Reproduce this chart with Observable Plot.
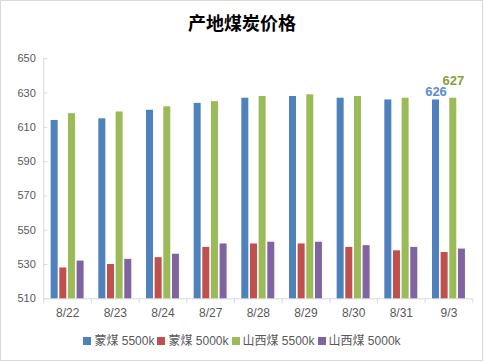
<!DOCTYPE html>
<html>
<head>
<meta charset="utf-8">
<script src="https://cdn.jsdelivr.net/npm/d3@7"></script>
<script src="https://cdn.jsdelivr.net/npm/@observablehq/plot@0.6"></script>
<style>
  html, body { margin: 0; padding: 0; background: #fff; }
  body { width: 484px; height: 362px; position: relative; overflow: hidden;
         font-family: "Liberation Sans", "Noto Sans CJK SC", sans-serif; }
  #border { position: absolute; left: 0; top: 0; width: 483px; height: 361px;
            box-sizing: border-box; border: 1px solid #d9d9d9; }
  #title { position: absolute; left: 0; top: 9px; width: 484px; text-align: center;
           font-family: "Noto Sans CJK SC", sans-serif; font-weight: bold; font-size: 18px;
           line-height: 26px; color: #000; }
  #chart { position: absolute; left: 0; top: 45px; }
  #legend { position: absolute; left: 0; top: 333px; width: 484px; display: flex;
            justify-content: center; gap: 3px; font-size: 12px; color: #595959; line-height: 16px; }
  #legend .item { display: flex; align-items: center; gap: 3px; }
  #legend .sw { width: 8px; height: 8px; display: inline-block; }
</style>
</head>
<body>
<div id="border"></div>
<div id="title">产地煤炭价格</div>
<div id="chart"></div>
<div id="legend"></div>
<script>
const dates = ["8/22", "8/23", "8/24", "8/27", "8/28", "8/29", "8/30", "8/31", "9/3"];
const seriesNames = ["蒙煤 5500k", "蒙煤 5000k", "山西煤 5500k", "山西煤 5000k"];
const mengmei5500 = [614, 615, 620, 624, 627, 628, 627, 626, 626];
const mengmei5000 = [528, 530, 534, 540, 542, 542, 540, 538, 537];
const shanxi5500 = [618, 619, 622, 625, 628, 629, 628, 627, 627];
const shanxi5000 = [532, 533, 536, 542, 543, 543, 541, 540, 539];
const colors = ["#4F81BD", "#C0504D", "#9BBB59", "#8064A2"];
const yTicks = [510, 530, 550, 570, 590, 610, 630, 650];
const labelColors = ["#5A8BD6", "#8A9E3A"];

const seriesValues = [mengmei5500, mengmei5000, shanxi5500, shanxi5000];
const rows = [];
dates.forEach((d, i) => seriesNames.forEach((s, j) => rows.push({date: d, series: s, value: seriesValues[j][i]})));

const W = 484, H = 290, mL = 43.3, mR = 11.7, mT = 13.3, mB = 36.7;
const step = (W - mL - mR) / dates.length;
const plotH = H - mT - mB;
const axisColor = "#d9d9d9";
const lastDate = dates[dates.length - 1];

const lastRows = rows.filter(r => r.date === lastDate);

const chart = Plot.plot({
  width: W, height: H,
  marginLeft: mL, marginRight: mR, marginTop: mT, marginBottom: mB,
  style: {fontFamily: "Liberation Sans, sans-serif", color: "#595959", background: "transparent"},
  fx: {domain: dates, paddingInner: 0, paddingOuter: 0, round: false, label: null, axis: null},
  x: {domain: seriesNames, paddingInner: 0.19, paddingOuter: 0.85, round: false, axis: null},
  y: {domain: [yTicks[0], yTicks[yTicks.length - 1]], axis: null},
  color: {domain: seriesNames, range: colors},
  marks: [
    Plot.ruleY([yTicks[0]], {stroke: axisColor, strokeWidth: 1}),
    Plot.ruleX([dates[0]], {fx: d => d, x: null, dx: -step / 2, stroke: axisColor}),
    Plot.ruleY(yTicks.map(v => ({v, d: dates[0]})), {y: "v", fx: "d", insetRight: step - 4, stroke: axisColor}),
    Plot.ruleX(dates, {fx: d => d, x: null, dx: -step / 2, insetTop: plotH, insetBottom: -5, stroke: axisColor}),
    Plot.ruleX([lastDate], {fx: d => d, x: null, dx: step / 2, insetTop: plotH, insetBottom: -5, stroke: axisColor}),
    Plot.barY(rows, {fx: "date", x: "series", y1: yTicks[0], y2: "value", fill: "series"}),
    Plot.axisY(yTicks, {anchor: "left", tickSize: 0, tickPadding: 8, fontSize: 11, fill: "#595959"}),
    Plot.axisFx({anchor: "bottom", tickSize: 0, tickPadding: 10, fontSize: 12, fill: "#595959", label: null}),
    Plot.text(lastRows.filter(r => r.series === seriesNames[0]), {fx: "date", x: "series", y: "value", text: d => String(d.value), dy: -8, fill: labelColors[0], fontWeight: "bold", fontSize: 13}),
    Plot.text(lastRows.filter(r => r.series === seriesNames[2]), {fx: "date", x: "series", y: "value", text: d => String(d.value), dy: -17, fill: labelColors[1], fontWeight: "bold", fontSize: 13})
  ]
});
document.getElementById("chart").appendChild(chart);

const legend = document.getElementById("legend");
seriesNames.forEach((s, i) => {
  const item = document.createElement("span");
  item.className = "item";
  const sw = document.createElement("span");
  sw.className = "sw";
  sw.style.background = colors[i];
  const t = document.createElement("span");
  t.textContent = s;
  item.appendChild(sw);
  item.appendChild(t);
  legend.appendChild(item);
});
</script>
</body>
</html>
